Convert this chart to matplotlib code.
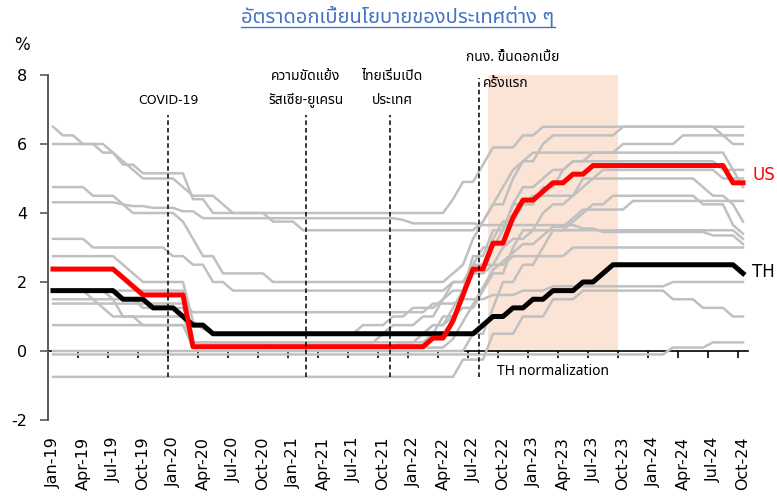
import numpy as np
import matplotlib
matplotlib.use("Agg")
import matplotlib.pyplot as plt
from matplotlib import font_manager, ft2font
from matplotlib.lines import Line2D

# ---------------- data (monthly, Jan-19 .. Oct-24) ----------------
tick_labels = ['Jan-19', 'Apr-19', 'Jul-19', 'Oct-19', 'Jan-20', 'Apr-20', 'Jul-20', 'Oct-20',
               'Jan-21', 'Apr-21', 'Jul-21', 'Oct-21', 'Jan-22', 'Apr-22', 'Jul-22', 'Oct-22',
               'Jan-23', 'Apr-23', 'Jul-23', 'Oct-23', 'Jan-24', 'Apr-24', 'Jul-24', 'Oct-24']

us = ([2.375] * 7 + [2.125, 1.875] + [1.625] * 5 + [0.125] * 24 +
      [0.375, 0.375, 0.875, 1.625, 2.375, 2.375, 3.125, 3.125, 3.875, 4.375, 4.375, 4.625,
       4.875, 4.875, 5.125, 5.125] + [5.375] * 14 + [4.875, 4.875])
th = ([1.75] * 7 + [1.5] * 3 + [1.25] * 3 + [1.0, 0.75, 0.75] + [0.5] * 27 +
      [0.75, 1.0, 1.0, 1.25, 1.25, 1.5, 1.5, 1.75, 1.75, 1.75, 2.0, 2.0, 2.25] + [2.5] * 13 + [2.25])

india = ([6.5, 6.25, 6.25, 6.0, 6.0, 5.75, 5.75, 5.4, 5.4, 5.15] + [5.15] * 4 + [4.4, 4.4] + [4.0] * 24 +
         [4.4, 4.9, 4.9, 5.4, 5.9, 5.9, 5.9, 6.25, 6.25] + [6.5] * 21)
indonesia = ([6.0] * 6 + [5.75, 5.5, 5.25] + [5.0] * 4 + [4.75] + [4.5] * 3 + [4.25] + [4.0] * 4 +
             [3.75] * 3 + [3.5] * 18 + [3.75, 4.25, 4.75, 5.25, 5.5] + [5.75] * 9 + [6.0] * 6 +
             [6.25] * 5 + [6.0] * 2)
philippines = ([4.75] * 4 + [4.5] * 3 + [4.25] + [4.0] * 5 + [3.75, 3.25, 2.75, 2.75] + [2.25] * 5 +
               [2.0] * 18 + [2.25, 2.5, 3.25, 3.75, 4.25, 4.25, 5.0, 5.5, 5.5, 6.0] + [6.25] * 7 +
               [6.5] * 10 + [6.25] * 3)
china = ([4.31] * 7 + [4.25, 4.2, 4.2, 4.15, 4.15, 4.15, 4.05, 4.05] + [3.85] * 20 + [3.8] +
         [3.7] * 7 + [3.65] * 10 + [3.55] * 2 + [3.45] * 11 + [3.35] * 3 + [3.1])
malaysia = ([3.25] * 4 + [3.0] * 8 + [2.75] * 2 + [2.5] * 2 + [2.0] * 2 + [1.75] * 22 + [2.0] * 2 +
            [2.25] * 2 + [2.5] * 2 + [2.75] * 6 + [3.0] * 18)
korea = ([1.75] * 6 + [1.5] * 3 + [1.25] * 5 + [0.75] * 2 + [0.5] * 15 + [0.75] * 3 + [1.0] * 2 +
         [1.25] * 3 + [1.5] + [1.75] * 2 + [2.25] + [2.5] * 2 + [3.0] + [3.25] * 2 + [3.5] * 21 + [3.25])
australia = ([1.5] * 5 + [1.25] + [1.0] * 3 + [0.75] * 5 + [0.25] * 8 + [0.1] * 18 +
             [0.35, 0.85, 1.35, 1.85, 2.35, 2.6, 2.85, 3.1, 3.1, 3.35, 3.6, 3.6, 3.85] +
             [4.1] * 5 + [4.35] * 12)
new_zealand = ([1.75] * 4 + [1.5] * 3 + [1.0] * 7 + [0.25] * 19 + [0.5, 0.75, 0.75, 0.75, 1.0, 1.0, 1.5,
               2.0, 2.0, 2.5, 3.0, 3.0, 3.5, 4.25, 4.25, 4.25, 4.75, 4.75, 5.25] + [5.5] * 15 +
               [5.25] * 2 + [4.75])
uk = ([0.75] * 14 + [0.1] * 21 + [0.25, 0.25, 0.5, 0.75, 0.75, 1.0, 1.25, 1.25, 1.75, 2.25, 2.25, 3.0,
      3.5, 3.5, 4.0, 4.25, 4.25, 4.5, 5.0, 5.0] + [5.25] * 12 + [5.0] * 3)
euro = ([0.0] * 42 + [0.5] * 2 + [1.25] + [2.0] * 2 + [2.5] * 2 + [3.0] + [3.5] * 2 + [3.75] + [4.0] +
        [4.25] * 2 + [4.5] * 9 + [4.25] * 3 + [3.65, 3.4])
canada = ([1.75] * 14 + [0.25] * 24 + [0.5, 1.0, 1.0, 1.5, 2.5, 2.5, 3.25, 3.75, 3.75, 4.25] +
          [4.5] * 5 + [4.75] + [5.0] * 11 + [4.75, 4.5, 4.5, 4.25, 3.75])
japan = [-0.1] * 62 + [0.1] * 4 + [0.25] * 4
switzerland = ([-0.75] * 41 + [-0.25] * 3 + [0.5] * 3 + [1.0] * 3 + [1.5] * 3 + [1.75] * 9 +
               [1.5] * 3 + [1.25] * 3 + [1.0] * 2)
taiwan = [1.375] * 14 + [1.125] * 24 + [1.375] * 3 + [1.5] * 3 + [1.625] * 3 + [1.75] * 3 + [1.875] * 12 + [2.0] * 8
hong_kong = ([2.75] * 7 + [2.5, 2.25] + [2.0] * 5 + [0.86, 0.64] + [0.5] * 22 +
             [0.75, 0.75, 1.25, 1.75, 2.75, 2.75, 3.5, 3.5, 4.25, 4.75, 4.75, 5.0, 5.25, 5.25, 5.5, 5.5] +
             [5.75] * 14 + [5.25, 5.25])

others = [india, indonesia, philippines, china, malaysia, korea, australia, new_zealand, uk, euro,
          canada, japan, switzerland, taiwan, hong_kong]

event_x = {'covid': 11.5, 'russia': 25.3, 'reopen': 33.7, 'hike': 42.6}
shade_span = (43.5, 56.5)

# ---------------- fonts ----------------
def pick_thai_font():
    preferred = ['Tahoma', 'Leelawadee UI', 'Leelawadee', 'Noto Sans Thai', 'Noto Sans Thai UI',
                 'Sarabun', 'Loma', 'Garuda', 'Tlwg Typo', 'Waree', 'Umpush', 'Kinnari', 'Norasi']
    found = {}
    for f in font_manager.fontManager.ttflist:
        if f.name in found:
            continue
        try:
            font = ft2font.FT2Font(f.fname)
            if font.get_char_index(0x0E01) and font.get_char_index(0x0E40):
                found[f.name] = f.fname
        except Exception:
            pass
    for p in preferred:
        if p in found:
            return p
    return next(iter(found), None)

thai = pick_thai_font()
fam = [thai, 'DejaVu Sans'] if thai else ['DejaVu Sans']
plt.rcParams['font.family'] = fam
plt.rcParams['axes.unicode_minus'] = False

# ---------------- figure ----------------
W, H = 777, 498
fig = plt.figure(figsize=(W / 100, H / 100), dpi=100)
ax = fig.add_axes([48 / W, 78 / H, 700 / W, 345 / H])

n = len(us)
x = np.arange(n)

ax.axvspan(*shade_span, ymin=0.2, ymax=1.0, color='#FBE3D6', lw=0, zorder=0)

for s in others:
    ax.plot(x, s, color='#C0C0C0', lw=1.8, zorder=2, solid_joinstyle='round')
ax.plot(x, th, color='black', lw=3.6, zorder=4, solid_joinstyle='round')
ax.plot(x, us, color='#FF0000', lw=3.6, zorder=5, solid_joinstyle='round')

for key, top in [('covid', 6.85), ('russia', 6.85), ('reopen', 6.85), ('hike', 7.9)]:
    ax.vlines(event_x[key], -0.75, top, colors='black', linestyles=(0, (3, 2)), lw=1.1, zorder=6)

ax.set_xlim(-0.5, n - 0.5)
ax.set_ylim(-2, 8)
ax.set_yticks([-2, 0, 2, 4, 6, 8])
ax.tick_params(axis='y', direction='out', length=6, width=1.2, color='#595959', labelsize=11.5, pad=9)
for lab in ax.get_yticklabels():
    lab.set_family('DejaVu Sans')

for side in ['top', 'right']:
    ax.spines[side].set_visible(False)
ax.spines['left'].set_color('#595959')
ax.spines['left'].set_linewidth(1.4)
ax.spines['bottom'].set_position(('data', 0))
ax.spines['bottom'].set_color('black')
ax.spines['bottom'].set_linewidth(1.2)
ax.spines['bottom'].set_zorder(1)
ax.set_xticks(np.arange(-0.5, n - 1, 3))
ax.tick_params(axis='x', direction='out', length=5, width=1.2, color='black', labelbottom=False)

sec = ax.secondary_xaxis('bottom')
sec.set_xticks(x[::3], tick_labels)
sec.tick_params(length=0, pad=12, labelsize=11.5, labelrotation=90)
sec.spines['bottom'].set_visible(False)
for lab in sec.get_xticklabels():
    lab.set_family('DejaVu Sans')

# annotations
txt = dict(fontsize=10, ha='center', va='center', zorder=7)
ax.text(event_x['covid'], 7.25, 'COVID-19', family='DejaVu Sans', fontsize=9, ha='center', va='center')
ax.text(event_x['russia'], 7.95, 'ความขัดแย้ง', **txt)
ax.text(event_x['russia'], 7.27, 'รัสเซีย-ยูเครน', **txt)
ax.text(event_x['reopen'] + 0.2, 7.95, 'ไทยเริ่มเปิด', **txt)
ax.text(event_x['reopen'] + 0.2, 7.27, 'ประเทศ', **txt)
ax.text(46.0, 8.5, 'กนง. ขึ้นดอกเบี้ย', clip_on=False, **txt)
ax.text(43.0, 7.75, 'ครั้งแรก', fontsize=10, ha='left', va='center', zorder=7)
ax.text(44.4, -0.6, 'TH normalization', fontsize=10, ha='left', va='center', zorder=7)
ax.text(70.0, 5.1, 'US', color='#FF0000', fontsize=12, ha='left', va='center', clip_on=False,
        family='DejaVu Sans')
ax.text(69.95, 2.28, 'TH', color='black', fontsize=12, ha='left', va='center', clip_on=False,
        family='DejaVu Sans')

fig.text(22 / W, 1 - 45 / H, '%', fontsize=12, ha='center', va='center', family='DejaVu Sans')

title = fig.text(398 / W, 1 - 17 / H, 'อัตราดอกเบี้ยนโยบายของประเทศต่าง ๆ', fontsize=14.5,
                 color='#4472C4', ha='center', va='center')
fig.canvas.draw()
bb = title.get_window_extent()
uy = (bb.y0 + 1) / H
fig.add_artist(Line2D([bb.x0 / W, bb.x1 / W], [uy, uy], transform=fig.transFigure,
                      color='#4472C4', lw=1.0))

fig.savefig('out.png', dpi=100)
